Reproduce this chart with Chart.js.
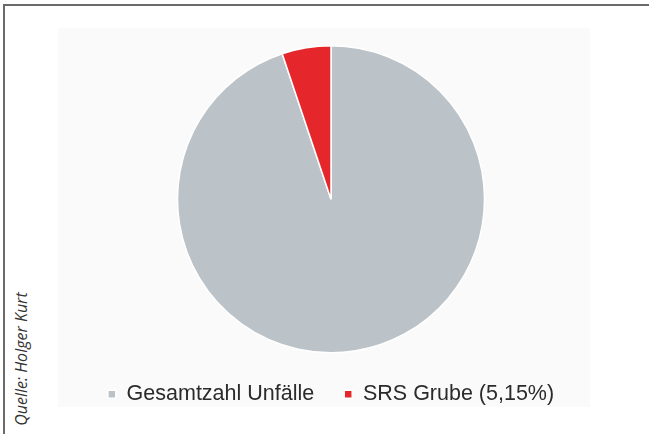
<!DOCTYPE html>
<html>
<head>
<meta charset="utf-8">
<script src="https://cdn.jsdelivr.net/npm/chart.js@4/dist/chart.umd.min.js"></script>
<style>
  html, body { margin: 0; padding: 0; background: #fff; }
  body { width: 649px; height: 434px; position: relative; overflow: hidden; }
  #frameTop { position: absolute; left: 3px; top: 4px; width: 646px; height: 2px; background: #6a6a6a; }
  #frameLeft { position: absolute; left: 3px; top: 4px; width: 2px; height: 430px; background: #6a6a6a; }
  #panel { position: absolute; left: 58px; top: 28px; width: 532px; height: 379px; background: #fafafa; }
  #wrap { position: absolute; left: 58px; top: 33px; width: 546px; height: 382px; }
  #source {
    position: absolute; left: 21px; top: 359px;
    transform: translate(-50%, -50%) rotate(-90deg);
    white-space: nowrap; font: italic 16px "Open Sans", sans-serif; color: #333;
  }
</style>
</head>
<body>
<div id="frameTop"></div>
<div id="frameLeft"></div>
<div id="panel"></div>
<div id="wrap"><canvas id="pie"></canvas></div>
<div id="source">Quelle: Holger Kurt</div>
<script>
// setup
const labels = ['Gesamtzahl Unfälle', 'SRS Grube (5,15%)'];
const values = [94.85, 5.15];
const colors = ['#bbc3c8', '#e5262b'];

const data = {
    labels: labels,
    datasets: [{
        data: values,
        backgroundColor: colors,
        borderColor: '#ffffff',
        borderWidth: 1.5
    }]
};

// config
const config = {
    type: 'pie',
    data,
    options: {
        responsive: true,
        maintainAspectRatio: false,
        animation: false,
        layout: { padding: { top: 12, bottom: 0 } },
        plugins: {
            tooltip: { enabled: false },
            legend: {
                position: 'bottom',
                labels: {
                    boxWidth: 8,
                    boxHeight: 8,
                    padding: 30,
                    color: '#2b2b2b',
                    font: { family: 'Liberation Sans, Arial, sans-serif', size: 21.5 }
                }
            }
        }
    }
};

// render init block
const pie = new Chart(document.getElementById('pie'), config);
</script>
</body>
</html>
